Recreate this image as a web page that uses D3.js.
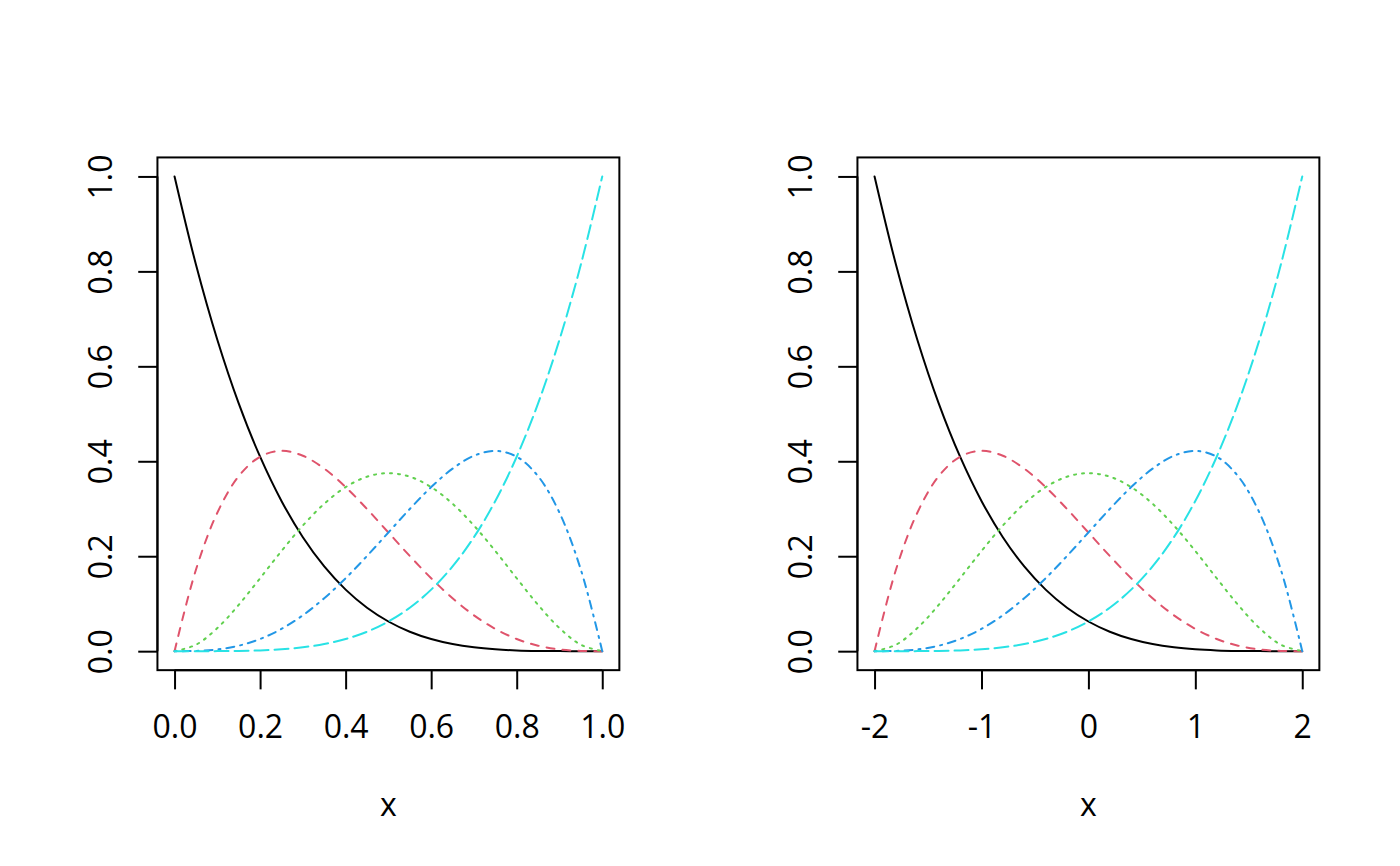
<!DOCTYPE html>
<html>
<head>
<meta charset="utf-8">
<script src="https://cdn.jsdelivr.net/npm/d3@7"></script>
<style>
  body { margin: 0; background: #fff; }
  svg { display: block; }
  text { font-family: "Open Sans", "Noto Sans", sans-serif; font-size: 32px; fill: #000; }
</style>
</head>
<body>
<svg id="chart" width="1400" height="866"></svg>
<script>
// x positions of the sampled points, one set per panel
const xLeft = [0, 0.05, 0.1, 0.15, 0.2, 0.25, 0.3, 0.35, 0.4, 0.45, 0.5,
  0.55, 0.6, 0.65, 0.7, 0.75, 0.8, 0.85, 0.9, 0.95, 1];
const xRight = [-2, -1.8, -1.6, -1.4, -1.2, -1, -0.8, -0.6, -0.4, -0.2, 0,
  0.2, 0.4, 0.6, 0.8, 1, 1.2, 1.4, 1.6, 1.8, 2];

// curve values (same in both panels)
const curve1 = [1, 0.8145, 0.6561, 0.522, 0.4096, 0.3164, 0.2401, 0.1785, 0.1296, 0.0915, 0.0625,
  0.041, 0.0256, 0.015, 0.0081, 0.0039, 0.0016, 0.0005, 0.0001, 0, 0];
const curve2 = [0, 0.1715, 0.2916, 0.3685, 0.4096, 0.4219, 0.4116, 0.3845, 0.3456, 0.2995, 0.25,
  0.2005, 0.1536, 0.1115, 0.0756, 0.0469, 0.0256, 0.0115, 0.0036, 0.0005, 0];
const curve3 = [0, 0.0135, 0.0486, 0.0975, 0.1536, 0.2109, 0.2646, 0.3105, 0.3456, 0.3675, 0.375,
  0.3675, 0.3456, 0.3105, 0.2646, 0.2109, 0.1536, 0.0975, 0.0486, 0.0135, 0];
const curve4 = [0, 0.0005, 0.0036, 0.0115, 0.0256, 0.0469, 0.0756, 0.1115, 0.1536, 0.2005, 0.25,
  0.2995, 0.3456, 0.3845, 0.4116, 0.4219, 0.4096, 0.3685, 0.2916, 0.1715, 0];
const curve5 = [0, 0, 0.0001, 0.0005, 0.0016, 0.0039, 0.0081, 0.015, 0.0256, 0.041, 0.0625,
  0.0915, 0.1296, 0.1785, 0.2401, 0.3164, 0.4096, 0.522, 0.6561, 0.8145, 1];

const curves = [curve1, curve2, curve3, curve4, curve5];
const colors = ["#000000", "#DF536B", "#61D04F", "#2297E6", "#28E2E5"];
const dashes = [null, "8,8", "2,6", "2,6,8,6", "14,6"];

// tick values / labels
const xTicksLeft = [0, 0.2, 0.4, 0.6, 0.8, 1];
const xTickLabelsLeft = ["0.0", "0.2", "0.4", "0.6", "0.8", "1.0"];
const xTicksRight = [-2, -1, 0, 1, 2];
const xTickLabelsRight = ["-2", "-1", "0", "1", "2"];
const yTicks = [0, 0.2, 0.4, 0.6, 0.8, 1];
const yTickLabels = ["0.0", "0.2", "0.4", "0.6", "0.8", "1.0"];

const svg = d3.select("#chart");
const lineH = 38.4; // one R margin line
const panelW = 700;
const mar = { top: 4.1 * lineH, right: 2.1 * lineH, bottom: 5.1 * lineH, left: 4.1 * lineH };

function drawPanel(offsetX, xs, xDomain, xTicks, xLabels) {
  const g = svg.append("g").attr("transform", `translate(${offsetX},0)`);
  const x0 = mar.left, x1 = panelW - mar.right;
  const y0 = 866 - mar.bottom, y1 = mar.top;

  const x = d3.scaleLinear().domain(xDomain).range([x0, x1]);
  const y = d3.scaleLinear().domain([-0.04, 1.04]).range([y0, y1]);

  // curves
  const line = d3.line()
    .x((d) => x(d[0]))
    .y((d) => y(d[1]))
    .curve(d3.curveCatmullRom);

  curves.forEach((c, i) => {
    g.append("path")
      .datum(xs.map((v, j) => [v, c[j]]))
      .attr("d", line)
      .attr("fill", "none")
      .attr("stroke", colors[i])
      .attr("stroke-width", 2)
      .attr("stroke-linecap", "round")
      .attr("stroke-dasharray", dashes[i]);
  });

  // x axis
  const ax = g.append("g")
    .attr("transform", `translate(0,${y0})`)
    .call(d3.axisBottom(x).tickValues(xTicks)
      .tickFormat((d, i) => xLabels[i])
      .tickSize(lineH / 2).tickSizeOuter(0).tickPadding(26));
  ax.select(".domain").remove();
  ax.selectAll(".tick line").attr("stroke", "#000").attr("stroke-width", 2);
  ax.selectAll(".tick text").attr("font-size", 32).attr("font-family", null);
  // axis line from first to last tick
  g.append("line")
    .attr("x1", x(xTicks[0])).attr("x2", x(xTicks[xTicks.length - 1]))
    .attr("y1", y0).attr("y2", y0)
    .attr("stroke", "#000").attr("stroke-width", 2);

  // y axis
  const ay = g.append("g")
    .attr("transform", `translate(${x0},0)`)
    .call(d3.axisLeft(y).tickValues(yTicks)
      .tickFormat((d, i) => yTickLabels[i])
      .tickSize(lineH / 2).tickSizeOuter(0));
  ay.select(".domain").remove();
  ay.selectAll(".tick line").attr("stroke", "#000").attr("stroke-width", 2);
  ay.selectAll(".tick text")
    .attr("x", null).attr("dy", null)
    .attr("font-size", 32).attr("font-family", null)
    .attr("text-anchor", "middle")
    .attr("transform", "translate(-45.5,0) rotate(-90)");
  g.append("line")
    .attr("x1", x0).attr("x2", x0)
    .attr("y1", y(yTicks[0])).attr("y2", y(yTicks[yTicks.length - 1]))
    .attr("stroke", "#000").attr("stroke-width", 2);

  // box
  g.append("rect")
    .attr("x", x0).attr("y", y1)
    .attr("width", x1 - x0).attr("height", y0 - y1)
    .attr("fill", "none")
    .attr("stroke", "#000")
    .attr("stroke-width", 2);

  // axis title
  g.append("text")
    .attr("x", (x0 + x1) / 2)
    .attr("y", y0 + 3 * lineH + 30.5)
    .attr("text-anchor", "middle")
    .text("x");
}

drawPanel(0, xLeft, [-0.04, 1.04], xTicksLeft, xTickLabelsLeft);
drawPanel(panelW, xRight, [-2.16, 2.16], xTicksRight, xTickLabelsRight);
</script>
</body>
</html>
